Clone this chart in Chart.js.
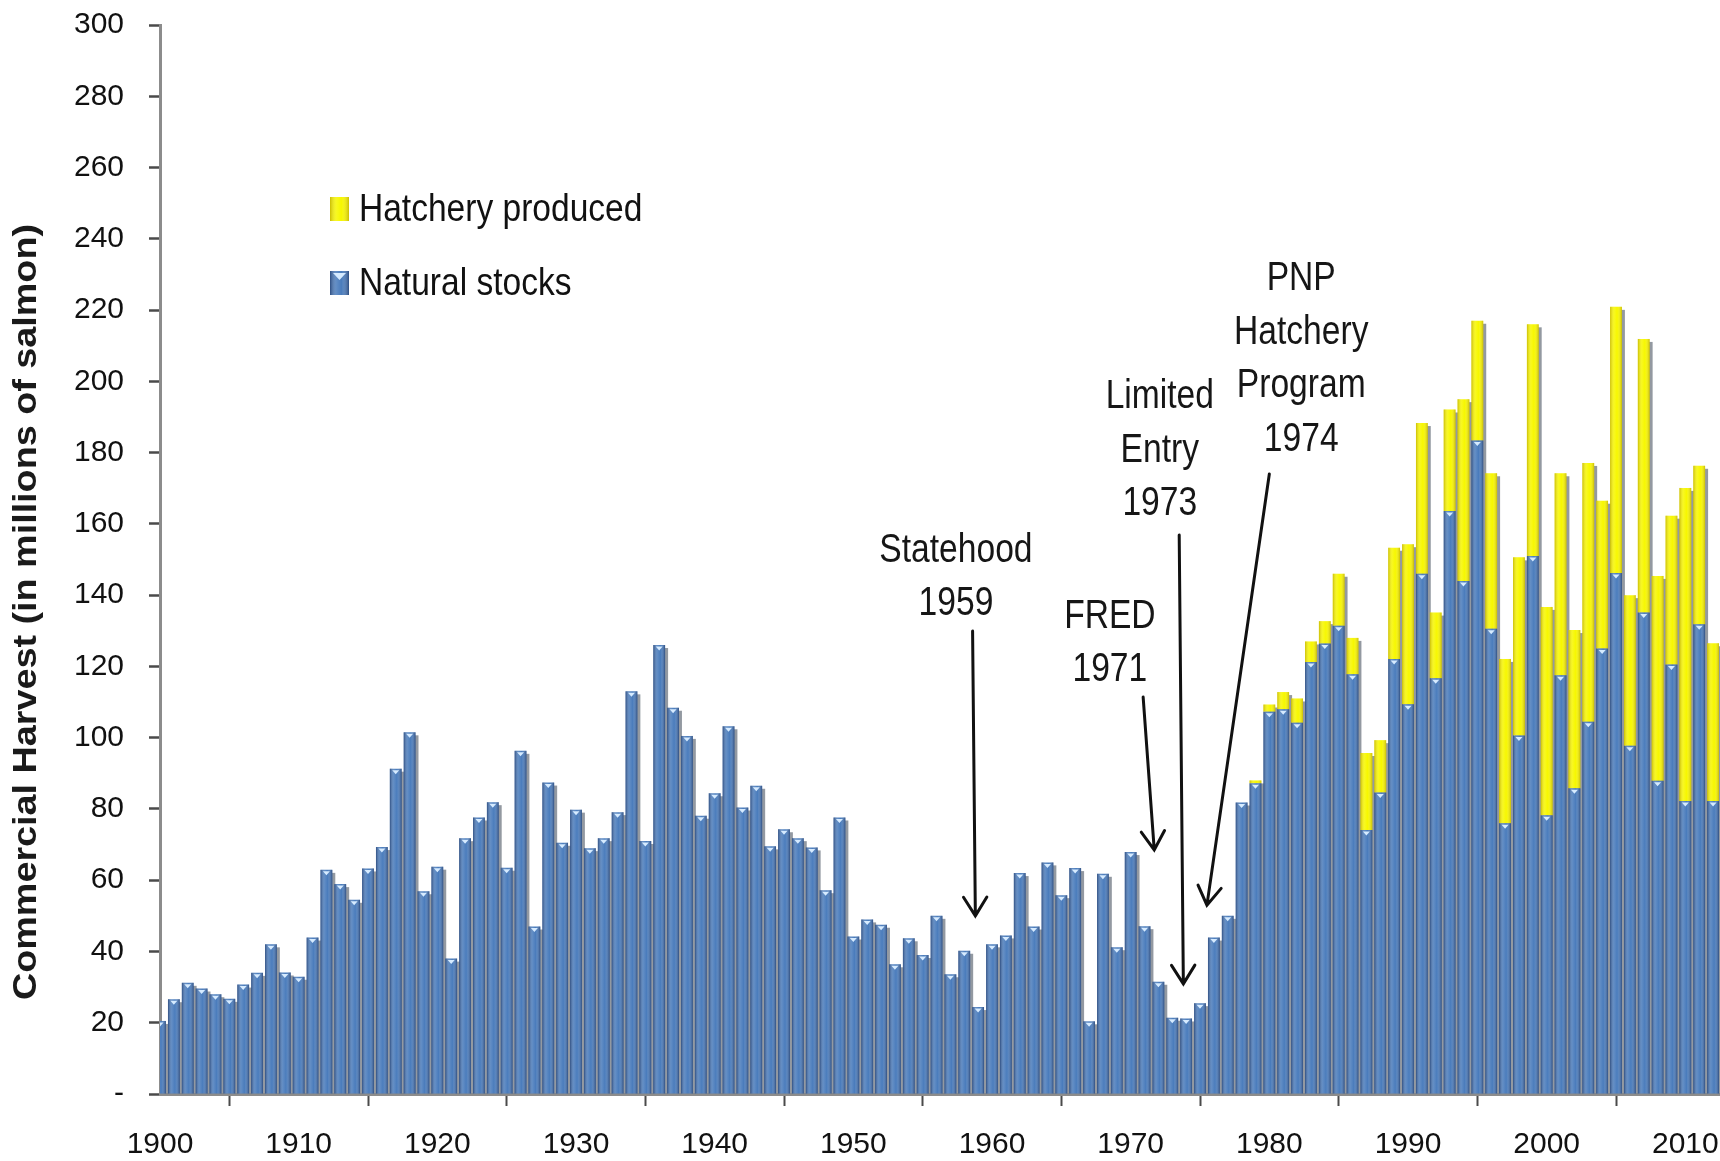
<!DOCTYPE html>
<html lang="en">
<head>
<meta charset="UTF-8">
<title>Commercial Salmon Harvest</title>
<script src="https://cdn.jsdelivr.net/npm/chart.js"></script>
<style>
    body { margin: 0; background: #ffffff; }
    .chart-box { width: 1720px; height: 1161px; position: relative; }
</style>
</head>
<body>
<div class="chart-box"><canvas id="harvestChart"></canvas></div>
<script>
    // harvest in millions of salmon, one value per year
    const years = Array.from({ length: 113 }, (_, i) => 1900 + i);
    const naturalStocks = [
        20.5, 26.6, 31.2, 29.6, 28, 26.7, 30.7, 34, 42, 34.1,
        32.9, 43.9, 62.9, 58.9, 54.5, 63.3, 69.3, 91.3, 101.5, 56.9,
        63.8, 38, 71.8, 77.6, 81.9, 63.5, 96.3, 47, 87.4, 70.5,
        79.8, 69, 71.8, 79.1, 113, 71, 126, 108.4, 100.5, 78.1,
        84.4, 103.2, 80.4, 86.5, 69.5, 74.3, 71.8, 69.2, 57.2, 77.6,
        44.2, 49, 47.5, 36.4, 43.7, 39, 50, 33.6, 40.2, 24.4,
        42, 44.5, 62, 47, 65, 55.8, 63.4, 20.4, 61.8, 41.2,
        67.9, 47.1, 31.5, 21.4, 21.2, 25.5, 43.9, 50, 81.8, 87.2,
        107.3, 108, 104.2, 121.2, 126.4, 131.4, 117.8, 74.1, 84.6, 122.1,
        109.4, 146, 116.7, 163.6, 144, 183.4, 130.6, 76, 100.6, 151,
        78.2, 117.5, 85.8, 104.5, 125, 146.2, 97.7, 135.1, 87.9, 120.5,
        82.2, 131.8, 82.2
    ];
    const hatcheryYears = Array.from({ length: 35 }, (_, i) => 1978 + i);
    const hatcheryProduced = [
        0, 0.8,
        2, 4.8, 6.8, 5.8, 6.3, 14.6, 10.2, 21.6, 14.7, 31.2,
        44.9, 42.3, 18.4, 28.5, 51, 33.6, 43.6, 46.1, 50, 65,
        58.5, 56.7, 44.4, 72.6, 41.5, 74.7, 42.3, 76.8, 57.5, 41.8,
        87.9, 44.5, 44.3
    ];
    const xTicks = [1900, 1910, 1920, 1930, 1940, 1950, 1960, 1970, 1980, 1990, 2000, 2010];
    const yTicks = [0, 20, 40, 60, 80, 100, 120, 140, 160, 180, 200, 220, 240, 260, 280, 300];
    const yTitle = 'Commercial Harvest (in millions of salmon)';

    // event notes, anchored in [year, value] units
    const notes = [
        { lines: ['Statehood', '1959'], text: [1957.4, 149.4], from: [1958.6, 129.9], to: [1958.8, 50] },
        { lines: ['FRED', '1971'], text: [1968.5, 130.9], from: [1970.9, 111.4], to: [1971.7, 68.5] },
        { lines: ['Limited', 'Entry', '1973'], text: [1972.1, 192.5], from: [1973.5, 156.9], to: [1973.8, 30.9] },
        { lines: ['PNP', 'Hatchery', 'Program', '1974'], text: [1982.3, 225.5], from: [1980, 174], to: [1975.5, 53] }
    ];

    const FONT = '"Liberation Sans", Arial, sans-serif';
    const BLUE = '#4a7cbc';
    const YELLOW = '#f7f700';

    function edgeShade(ctx, left, width, dark) {
        const g = ctx.createLinearGradient(left, 0, left + width, 0);
        g.addColorStop(0, dark);
        g.addColorStop(0.35, 'rgba(255,255,255,0.12)');
        g.addColorStop(0.6, 'rgba(255,255,255,0)');
        g.addColorStop(1, dark);
        return g;
    }

    // shadow, shading and top caps on the bars
    const barDecor = {
        id: 'barDecor',
        beforeDatasetsDraw(chart) {
            const ctx = chart.ctx, a = chart.chartArea;
            const nat = chart.getDatasetMeta(0).data;
            const hat = chart.getDatasetMeta(1).data;
            ctx.save();
            ctx.beginPath();
            ctx.rect(a.left, a.top, a.right - a.left, a.bottom - a.top);
            ctx.clip();
            ctx.fillStyle = 'rgba(120,128,138,0.8)';
            nat.forEach((bar, i) => {
                const p = bar.getProps(['x', 'y', 'base', 'width'], true);
                let top = p.y;
                const j = hatcheryYears.indexOf(years[i]);
                if (j >= 0 && hat[j]) top = Math.min(top, hat[j].getProps(['y'], true).y);
                ctx.fillRect(p.x - p.width / 2 + 2, top + 3, p.width + 1, p.base - top - 3);
            });
            ctx.restore();
        },
        afterDatasetsDraw(chart) {
            const ctx = chart.ctx, a = chart.chartArea;
            ctx.save();
            ctx.beginPath();
            ctx.rect(a.left, a.top, a.right - a.left, a.bottom - a.top);
            ctx.clip();
            [0, 1].forEach(di => {
                const dark = di === 0 ? 'rgba(15,30,70,0.5)' : 'rgba(150,120,0,0.45)';
                chart.getDatasetMeta(di).data.forEach(bar => {
                    const p = bar.getProps(['x', 'y', 'base', 'width'], true);
                    if (!(p.base - p.y > 0.5)) return;
                    const left = p.x - p.width / 2;
                    ctx.fillStyle = edgeShade(ctx, left, p.width, dark);
                    ctx.fillRect(left, p.y, p.width, p.base - p.y);
                    if (di === 0) {
                        ctx.fillStyle = '#d6ebff';
                        ctx.beginPath();
                        ctx.moveTo(p.x - 3.5, p.y + 1.5);
                        ctx.lineTo(p.x + 3.5, p.y + 1.5);
                        ctx.lineTo(p.x, p.y + 5.5);
                        ctx.fill();
                    }
                });
            });
            ctx.restore();
        }
    };

    const legendBox = {
        id: 'legendBox',
        afterDraw(chart) {
            const ctx = chart.ctx;
            [1, 0].forEach((di, r) => {
                const ds = chart.data.datasets[di];
                const top = 197 + r * 74;
                ctx.fillStyle = ds.backgroundColor;
                ctx.fillRect(330, top, 19, 24);
                ctx.fillStyle = edgeShade(ctx, 330, 19, di === 0 ? 'rgba(15,30,70,0.5)' : 'rgba(150,120,0,0.45)');
                ctx.fillRect(330, top, 19, 24);
                if (di === 0) {
                    ctx.fillStyle = '#d6ebff';
                    ctx.beginPath();
                    ctx.moveTo(333, top + 2);
                    ctx.lineTo(346, top + 2);
                    ctx.lineTo(339.5, top + 9);
                    ctx.fill();
                }
                ctx.save();
                ctx.translate(359, top + 24);
                ctx.scale(0.86, 1);
                ctx.font = '39px ' + FONT;
                ctx.fillStyle = '#111111';
                ctx.textBaseline = 'alphabetic';
                ctx.fillText(ds.label, 0, 0);
                ctx.restore();
            });
        }
    };

    const eventNotes = {
        id: 'eventNotes',
        afterDraw(chart) {
            const ctx = chart.ctx, xs = chart.scales.x, ys = chart.scales.y;
            const px = p => [xs.getPixelForValue(p[0]), ys.getPixelForValue(p[1])];
            notes.forEach(n => {
                const [tx, ty] = px(n.text);
                n.lines.forEach((line, k) => {
                    ctx.save();
                    ctx.translate(tx, ty + k * 53.5);
                    ctx.scale(0.84, 1);
                    ctx.font = '40px ' + FONT;
                    ctx.fillStyle = '#161616';
                    ctx.textAlign = 'center';
                    ctx.textBaseline = 'alphabetic';
                    ctx.fillText(line, 0, 0);
                    ctx.restore();
                });
                const [x1, y1] = px(n.from), [x2, y2] = px(n.to);
                const ang = Math.atan2(y2 - y1, x2 - x1), L = 22, h = 0.56;
                ctx.save();
                ctx.strokeStyle = '#111111';
                ctx.lineWidth = 3;
                ctx.lineCap = 'round';
                ctx.beginPath();
                ctx.moveTo(x1, y1);
                ctx.lineTo(x2, y2);
                ctx.moveTo(x2 - L * Math.cos(ang - h), y2 - L * Math.sin(ang - h));
                ctx.lineTo(x2, y2);
                ctx.lineTo(x2 - L * Math.cos(ang + h), y2 - L * Math.sin(ang + h));
                ctx.stroke();
                ctx.restore();
            });
        }
    };

    const axisTitle = {
        id: 'axisTitle',
        afterDraw(chart) {
            const ctx = chart.ctx;
            ctx.save();
            ctx.translate(27, 612);
            ctx.rotate(-Math.PI / 2);
            ctx.font = 'bold 33px ' + FONT;
            const w = ctx.measureText(yTitle).width;
            ctx.scale(776 / w, 1);
            ctx.fillStyle = '#1a1a1a';
            ctx.textAlign = 'center';
            ctx.textBaseline = 'middle';
            ctx.fillText(yTitle, 0, 0);
            ctx.restore();
        }
    };

    new Chart(document.getElementById('harvestChart'), {
        type: 'bar',
        data: {
            datasets: [
                {
                    label: 'Natural stocks',
                    data: years.map((x, i) => ({ x, y: naturalStocks[i] })),
                    backgroundColor: BLUE,
                    borderWidth: 0,
                    barPercentage: 0.85,
                    categoryPercentage: 1,
                    clip: 0
                },
                {
                    label: 'Hatchery produced',
                    data: hatcheryYears.map((x, i) => ({ x, y: hatcheryProduced[i] })),
                    backgroundColor: YELLOW,
                    borderWidth: 0,
                    barPercentage: 0.85,
                    categoryPercentage: 1,
                    clip: 0
                }
            ]
        },
        options: {
            responsive: true,
            maintainAspectRatio: false,
            animation: false,
            devicePixelRatio: 1,
            layout: { padding: { top: 25, left: 0, right: 0, bottom: 0 } },
            plugins: { legend: { display: false }, tooltip: { enabled: false } },
            scales: {
                x: {
                    type: 'linear',
                    min: 1900,
                    max: 2012.5,
                    stacked: true,
                    offset: false,
                    z: 1,
                    grid: { drawOnChartArea: false, tickLength: 12, tickColor: '#4a4a4a', tickWidth: 2 },
                    border: { color: '#8c8c8c', width: 3 },
                    ticks: {
                        font: { family: FONT, size: 30 },
                        color: '#111111',
                        padding: 21,
                        maxRotation: 0,
                        autoSkip: false,
                        callback: v => String(v)
                    },
                    afterBuildTicks: s => { s.ticks = xTicks.map(value => ({ value })); },
                    afterFit: s => { s.height = 67; s.paddingLeft = 0; s.paddingRight = 0; }
                },
                y: {
                    type: 'linear',
                    min: 0,
                    max: 300,
                    stacked: true,
                    z: 1,
                    grid: { drawOnChartArea: false, tickLength: 11, tickColor: '#4a4a4a', tickWidth: 2.5 },
                    border: { color: '#8c8c8c', width: 3 },
                    ticks: {
                        font: { family: FONT, size: 30 },
                        color: '#111111',
                        padding: 25,
                        autoSkip: false,
                        callback: v => (v === 0 ? '-' : String(v))
                    },
                    afterBuildTicks: s => { s.ticks = yTicks.map(value => ({ value })); },
                    afterFit: s => { s.width = 160; s.paddingTop = 0; s.paddingBottom = 0; }
                }
            }
        },
        plugins: [barDecor, legendBox, eventNotes, axisTitle]
    });
</script>
</body>
</html>
